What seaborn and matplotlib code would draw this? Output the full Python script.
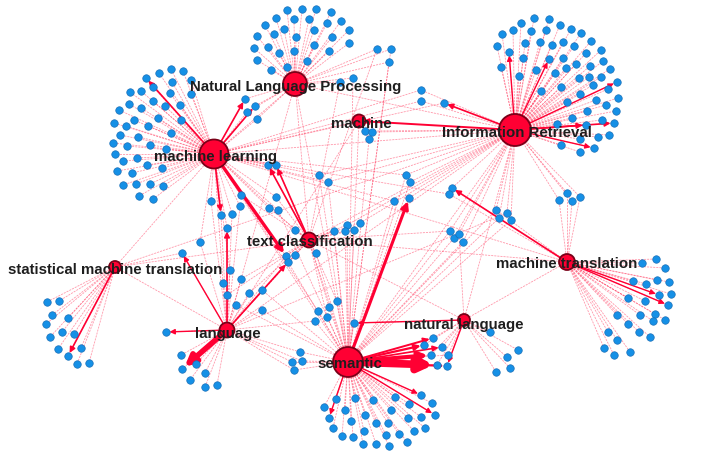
import numpy as np
import pandas as pd
import seaborn as sns
import matplotlib
matplotlib.use("Agg")
import matplotlib.pyplot as plt
from matplotlib.collections import LineCollection

sns.set_theme(style="white")
plt.rcParams["font.family"] = ["Liberation Sans", "DejaVu Sans"]

# hub (topic) nodes, in pixel coordinates of the 716x464 picture
hub_names = ["Natural Language Processing", "machine learning", "Information Retrieval", "machine",
             "text classification", "statistical machine translation", "language", "semantic",
             "natural language", "machine translation"]
hub_keys = ["NLP", "ML", "IR", "MA", "TC", "SMT", "LA", "SE", "NL", "MT"]
hub_x = [295, 214, 515, 359, 309, 115, 227, 348, 464, 567]
hub_y = [85, 155, 131, 122, 241, 268, 331, 363, 321, 263]
hub_diam = [24, 29, 32, 13, 15, 12, 15, 30, 12, 16]

# leaf keywords hanging off one hub only
nlp_leaves = [(287, 11), (302, 10), (316, 10), (331, 13), (276, 19), (294, 20), (309, 20), (341, 22),
              (265, 26), (327, 24), (284, 30), (314, 31), (349, 31), (257, 37), (274, 35), (296, 38),
              (332, 38), (268, 48), (314, 46), (349, 44), (254, 49), (279, 54), (294, 52), (329, 52),
              (257, 61), (307, 62), (271, 71), (287, 68)]
ml_leaves = [(146, 79), (159, 74), (171, 70), (183, 72), (153, 88), (172, 83), (191, 81), (130, 93),
             (141, 92), (170, 94), (191, 95), (129, 105), (153, 102), (141, 109), (165, 107), (180, 106),
             (119, 111), (134, 121), (158, 119), (181, 121), (114, 124), (126, 127), (148, 127), (171, 134),
             (120, 136), (138, 138), (113, 144), (127, 147), (150, 146), (166, 150), (115, 155), (137, 159),
             (123, 162), (147, 166), (162, 169), (117, 172), (132, 174), (123, 186), (136, 185), (150, 185),
             (163, 187), (139, 197), (153, 200)]
ir_leaves = [(534, 19), (549, 20), (521, 24), (560, 26), (502, 35), (513, 31), (531, 32), (546, 31),
             (571, 30), (581, 34), (497, 47), (525, 44), (540, 43), (552, 46), (563, 43), (574, 47),
             (591, 42), (509, 53), (523, 59), (549, 60), (563, 59), (586, 54), (601, 51), (501, 68),
             (536, 71), (576, 65), (590, 67), (603, 62), (610, 70), (519, 77), (555, 74), (566, 69),
             (579, 79), (589, 78), (601, 78), (617, 83), (541, 92), (561, 88), (580, 95), (593, 86),
             (608, 90), (618, 99), (567, 103), (587, 112), (596, 101), (606, 106), (616, 112), (572, 119),
             (586, 126), (602, 121), (614, 124), (557, 125), (580, 140), (598, 138), (609, 136), (561, 146),
             (580, 153), (594, 149)]
se_leaves = [(324, 408), (336, 400), (329, 419), (345, 411), (355, 399), (333, 429), (351, 422), (365, 416),
             (373, 401), (342, 437), (353, 438), (364, 432), (376, 424), (391, 411), (363, 445), (376, 445),
             (389, 447), (386, 436), (399, 435), (388, 424), (395, 398), (408, 419), (409, 405), (407, 443),
             (414, 432), (425, 429), (421, 418), (432, 404), (435, 416), (421, 396)]
smt_leaves = [(47, 303), (59, 302), (52, 316), (68, 319), (46, 325), (62, 333), (74, 335), (50, 338),
              (81, 349), (58, 350), (68, 357), (77, 365), (89, 364)]
la_leaves = [(181, 356), (182, 370), (196, 365), (190, 381), (205, 374), (205, 388), (217, 386), (166, 333)]
nl_leaves = [(490, 333), (518, 351), (507, 358), (510, 369), (496, 373)]
mt_leaves = [(642, 264), (656, 260), (665, 269), (633, 282), (646, 285), (657, 281), (669, 283), (659, 296),
             (671, 295), (628, 299), (645, 302), (668, 306), (617, 316), (640, 316), (655, 315), (665, 321),
             (608, 333), (628, 325), (653, 322), (617, 341), (639, 333), (650, 338), (604, 349), (614, 356),
             (630, 353)]
leaf_groups = {"NLP": nlp_leaves, "ML": ml_leaves, "IR": ir_leaves, "SE": se_leaves,
               "SMT": smt_leaves, "LA": la_leaves, "NL": nl_leaves, "MT": mt_leaves}

# shared keywords in the middle, with the hubs they link to
mid_nodes = [(377, 50), (391, 50), (389, 63), (421, 91), (421, 102), (444, 104), (340, 83), (353, 79),
             (365, 132), (372, 133), (369, 140), (245, 100), (247, 113), (255, 107), (257, 120),
             (268, 166), (276, 166), (319, 176), (328, 183), (406, 176), (410, 183), (394, 202), (409, 199),
             (452, 189), (449, 195), (496, 211), (499, 219), (507, 214), (511, 221), (559, 201), (567, 194),
             (572, 202), (580, 198), (241, 196), (276, 198), (240, 207), (232, 215), (269, 209), (278, 211),
             (211, 202), (221, 216), (227, 229), (295, 231), (316, 254), (347, 226), (360, 224), (334, 232),
             (345, 232), (354, 231), (286, 257), (295, 256), (288, 263), (450, 232), (454, 239), (459, 235),
             (463, 243), (241, 280), (249, 294), (262, 291), (236, 306), (262, 311), (230, 271), (223, 284),
             (227, 296), (200, 243), (182, 254), (337, 302), (329, 308), (318, 312), (327, 318), (315, 322),
             (354, 324), (300, 353), (292, 363), (302, 362), (294, 371), (433, 339), (424, 346), (442, 348),
             (431, 356), (448, 356), (437, 366), (447, 367)]
mid_links = [["NLP", "TC"], ["NLP", "SE"], ["NLP", "SE"], ["IR", "ML"], ["IR", "ML"], ["IR", "ML"],
             ["NLP", "TC"], ["NLP", "SE"], ["MA", "IR"], ["MA", "IR"], ["MA", "SE"], ["ML", "NLP"],
             ["ML", "NLP"], ["ML", "NLP"], ["ML", "NLP"], ["TC", "ML"], ["TC", "ML"], ["ML", "IR", "SE"],
             ["ML", "IR", "SE"], ["IR", "ML", "SE"], ["IR", "SE"], ["SE", "ML"], ["SE", "IR"],
             ["MT", "IR"], ["MT", "ML"], ["IR", "SE", "MT"], ["IR", "SE"], ["IR", "LA"], ["IR", "SE"],
             ["MT", "IR"], ["MT", "IR"], ["MT", "IR"], ["MT", "IR"], ["ML", "TC"], ["ML", "TC"],
             ["ML", "LA"], ["ML", "LA"], ["ML", "TC"], ["ML", "SE"], ["ML", "LA"], ["ML", "LA"],
             ["LA", "ML"], ["TC", "ML"], ["TC", "SE"], ["TC", "IR", "SE"], ["TC", "IR"], ["TC", "SE"],
             ["TC", "SE"], ["TC", "SE"], ["TC", "ML", "LA"], ["TC", "LA"], ["TC", "LA", "SE"],
             ["IR", "SE", "TC"], ["IR", "SE"], ["IR", "NL"], ["IR", "SE"], ["LA", "TC"], ["LA", "TC"],
             ["LA", "SE"], ["LA", "SE"], ["LA", "SE"], ["LA", "ML"], ["LA", "ML"], ["LA", "TC"],
             ["LA", "ML"], ["LA", "SMT"], ["SE", "TC"], ["SE", "TC"], ["SE", "ML"], ["SE", "TC"],
             ["SE", "LA"], ["SE", "NL"], ["SE", "LA"], ["SE", "LA"], ["SE", "LA"], ["SE", "LA"],
             ["SE", "NL"], ["SE", "NL"], ["SE", "NL"], ["SE", "NL"], ["SE", "NL"], ["SE", "NL"], ["SE", "NL"]]

hub_links = [["ML", "NLP"], ["ML", "IR"], ["ML", "MA"], ["NLP", "SE"], ["NLP", "TC"], ["IR", "SE"],
             ["IR", "TC"], ["IR", "LA"], ["MT", "ML"], ["MT", "TC"], ["SE", "TC"], ["SE", "ML"],
             ["SMT", "ML"], ["SMT", "TC"], ["SMT", "LA"], ["LA", "TC"], ["NL", "IR"], ["NL", "MT"],
             ["NL", "TC"], ["MA", "SE"], ["NLP", "IR"], ["MA", "LA"], ["NLP", "LA"], ["IR", "SMT"]]

# weighted (solid) links: source hub, target point, line width
strong_src = ["SE", "SE", "SE", "SE", "SE", "SE", "SE", "LA", "ML", "ML", "ML", "ML", "ML", "TC", "TC",
              "LA", "LA", "LA", "LA", "SMT", "IR", "IR", "IR", "IR", "IR", "IR", "IR", "MT", "MT", "MT",
              "SE", "SE", "SE", "NL", "NL", "IR"]
strong_dst = [(409, 199), (437, 366), (431, 356), (424, 346), (433, 339), (442, 348), (447, 367),
              (182, 370), (286, 257), (146, 79), (245, 100), (255, 107), (221, 216), (268, 166),
              (276, 166), (182, 254), (227, 229), (166, 333), (288, 263), (68, 357), (444, 104),
              (594, 149), (586, 126), (614, 124), (617, 83), (549, 60), (509, 53), (452, 189),
              (659, 296), (668, 306), (329, 419), (421, 396), (435, 416), (447, 367), (354, 324),
              (359, 122)]
strong_width = [2.2, 5.5, 3.0, 1.6, 1.4, 1.2, 1.6, 4.0, 2.4, 1.2, 1.2, 1.2, 1.2, 1.2, 1.2, 1.0, 1.2,
                1.0, 1.2, 1.2, 1.2, 1.0, 1.2, 1.2, 1.0, 1.0, 1.0, 1.2, 1.0, 1.0, 1.0, 1.0, 1.0, 1.0,
                1.0, 1.4]

RED = "#ff0033"
HUB_EDGE = "#7a0018"
BLUE = "#1590e6"
BLUE_EDGE = "#1a6fb8"
PINK = "#ff4466"

hub_pos = dict(zip(hub_keys, zip(hub_x, hub_y)))
hub_rad = dict(zip(hub_keys, hub_diam))

fig = plt.figure(figsize=(7.16, 4.64), dpi=100)
ax = fig.add_axes([0, 0, 1, 1])

# thin dotted edges
segs = []
for key, leaves in leaf_groups.items():
    for p in leaves:
        segs.append([hub_pos[key], p])
for p, links in zip(mid_nodes, mid_links):
    for key in links:
        segs.append([hub_pos[key], p])
for a, b in hub_links:
    segs.append([hub_pos[a], hub_pos[b]])
ax.add_collection(LineCollection(segs, colors=PINK, linewidths=0.6, alpha=0.55,
                                 linestyles=(0, (2.5, 1.2)), zorder=1))

# weighted arrows
for src, dst, lw in zip(strong_src, strong_dst, strong_width):
    ax.annotate("", xy=dst, xytext=hub_pos[src],
                arrowprops=dict(arrowstyle="-|>", color=RED, lw=lw, mutation_scale=5 + 2.6 * lw,
                                shrinkA=hub_rad[src] * 0.36, shrinkB=2.5),
                zorder=2)

# nodes
leaf_pts = [p for leaves in leaf_groups.values() for p in leaves] + mid_nodes
leaves_df = pd.DataFrame(leaf_pts, columns=["x", "y"])
sns.scatterplot(data=leaves_df, x="x", y="y", s=29, color=BLUE, edgecolor=BLUE_EDGE,
                linewidth=0.5, ax=ax, zorder=3, legend=False)

hubs_df = pd.DataFrame({"x": hub_x, "y": hub_y, "d": hub_diam})
sns.scatterplot(data=hubs_df, x="x", y="y", s=(hubs_df["d"] * 0.72) ** 2, color=RED,
                edgecolor=HUB_EDGE, linewidth=1.3, ax=ax, zorder=4, legend=False)

label_dx = [1, 1, 2, 2, 1, 0, 1, 2, 0, 0]
label_dy = [2, 2, 2, 2, 1, 2, 3, 1, 4, 1]
for name, x, y, dx, dy in zip(hub_names, hub_x, hub_y, label_dx, label_dy):
    ax.text(x + dx, y + dy, name, ha="center", va="center", fontsize=10.8, fontweight="bold",
            color="#1e1e1e", zorder=5)

ax.set_xlim(0, 716)
ax.set_ylim(464, 0)
ax.axis("off")
fig.savefig("out.png", dpi=100, facecolor="white")
